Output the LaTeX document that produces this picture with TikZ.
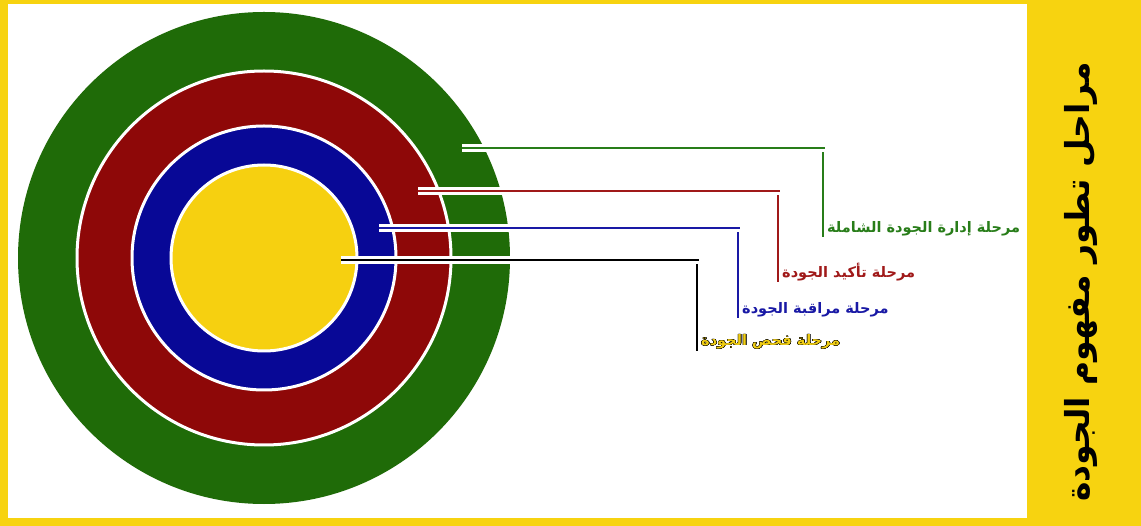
\documentclass[tikz,border=0pt]{standalone}
\usepackage{fontspec}
\setmainfont{DejaVu Sans}
\newfontfamily\arabicfont[Script=Arabic]{DejaVu Sans}
\TeXXeTstate=1
\usepackage{xcolor}
\usepackage[copies]{contour}
\contourlength{0.45pt}
\definecolor{banner}{RGB}{247,211,16}
\definecolor{ringgreen}{RGB}{31,107,8}
\definecolor{ringred}{RGB}{142,8,8}
\definecolor{ringblue}{RGB}{8,8,150}
\definecolor{ringyellow}{RGB}{246,208,16}
\definecolor{linegreen}{RGB}{40,125,25}
\definecolor{linered}{RGB}{160,25,25}
\definecolor{lineblue}{RGB}{25,25,165}
\definecolor{labelgold}{RGB}{240,205,20}

\begin{document}
\begin{tikzpicture}[x=1pt, y=-1pt,
    halo/.style={draw=white, line width=3pt, double=#1, double distance=2.5pt},
    stagelabel/.style={anchor=west, inner sep=1pt, text=#1,
      font=\arabicfont\bfseries\fontsize{14.5}{16}\selectfont}]
    % Draw frame
    \fill[banner] (0,0) rectangle (1141,526);
    \fill[white] (8,4) rectangle (1027,518);
    \useasboundingbox (0,0) rectangle (1141,526);

    % Draw rings
    \coordinate (centre) at (264,258);
    \fill[ringgreen] (centre) circle[radius=246pt];
    \filldraw[ringred, draw=white, line width=3pt] (centre) circle[radius=187pt];
    \filldraw[ringblue, draw=white, line width=3pt] (centre) circle[radius=132pt];
    \filldraw[ringyellow, draw=white, line width=3pt] (centre) circle[radius=93pt];

    % Draw title
    \node[rotate=90, font=\arabicfont\bfseries\fontsize{33}{35}\selectfont] (title) at (1081,282)
      {\beginR مراحل تطور مفهوم الجودة\endR};

    % Draw stage labels
    \node[stagelabel=linegreen] (tqm) at (826,229) {\beginR مرحلة إدارة الجودة الشاملة\endR};
    \node[stagelabel=linered] (assurance) at (781,272) {\beginR مرحلة تأكيد الجودة\endR};
    \node[stagelabel=lineblue] (control) at (741,310) {\beginR مرحلة مراقبة الجودة\endR};
    \node[stagelabel=labelgold] (inspection) at (700,342) {\contour{black}{\beginR مرحلة فحص الجودة\endR}};

    % Draw connectors
    \foreach \stage/\y/\xin/\xbend/\col in {tqm/148/462/823/linegreen,
        assurance/191/418/778/linered, control/228/379/738/lineblue,
        inspection/260/341/697/black}
    {
      \coordinate (\stage-in) at (\xin,\y);
      \coordinate (\stage-bend) at (\xbend,\y);
      \draw[\col, line width=2pt] (\stage-bend) -- (\stage-bend |- \stage.south);
      \draw[halo=\col] (\stage-in) -- ([xshift=1.5pt]\stage-bend);
    }
  \end{tikzpicture}
\end{document}
